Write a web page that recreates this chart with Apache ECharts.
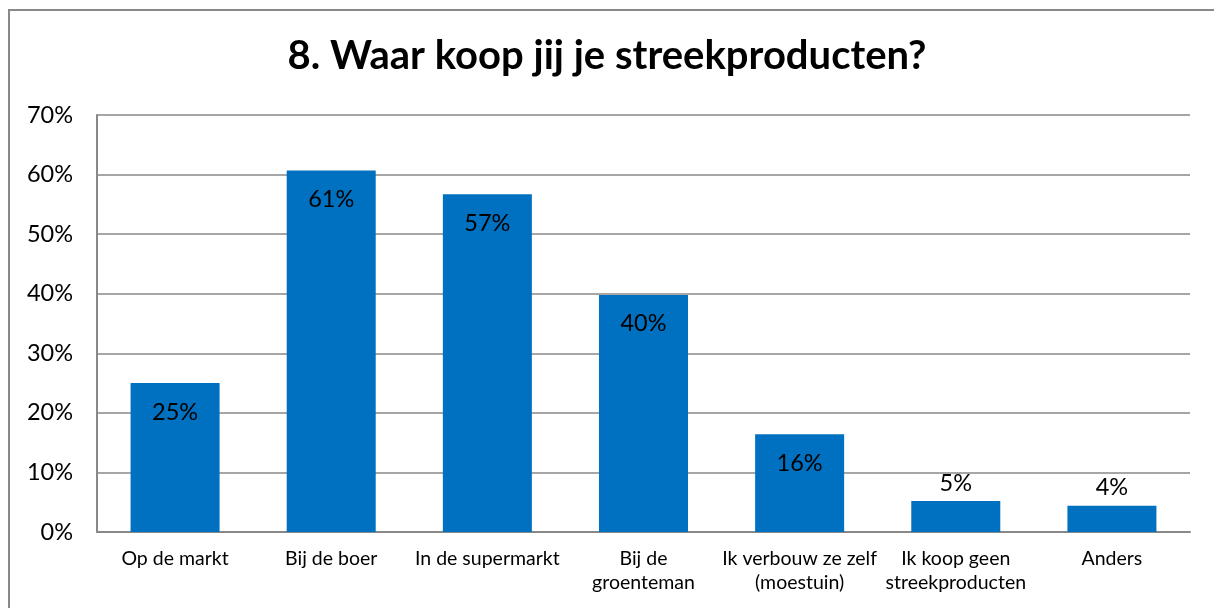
<!DOCTYPE html>
<html>
<head>
<meta charset="utf-8">
<script src="https://cdn.jsdelivr.net/npm/echarts@6/dist/echarts.min.js"></script>
<style>
  html, body { margin: 0; padding: 0; background: #fff; }
  #chart { width: 1214px; height: 608px; }
</style>
</head>
<body>
<div id="chart"></div>
<script>
const categories = ['Op de markt', 'Bij de boer', 'In de supermarkt', 'Bij de\ngroenteman',
  'Ik verbouw ze zelf\n(moestuin)', 'Ik koop geen\nstreekproducten', 'Anders']
const values = [25.0, 60.7, 56.7, 39.8, 16.4, 5.2, 4.4]
const barLabels = ['25%', '61%', '57%', '40%', '16%', '5%', '4%']
// small bars get their label above instead of inside
const labelOutside = [false, false, false, false, false, true, true]

const font = 'Lato, "Open Sans", sans-serif'
const myChart = echarts.init(document.getElementById('chart'))

myChart.setOption({
  animation: false,
  title: {
    text: '8. Waar koop jij je streekproducten?',
    left: 'center',
    top: 31,
    textStyle: { fontFamily: font, fontSize: 40, fontWeight: 'bold', color: '#000' }
  },
  graphic: [{
    type: 'rect',
    shape: { x: 9, y: 10, width: 1250, height: 650 },
    style: { fill: 'none', stroke: '#888', lineWidth: 2 },
    silent: true
  }],
  grid: { left: 97, right: 24, top: 115, bottom: 76 },
  xAxis: {
    type: 'category',
    data: categories,
    axisTick: { show: false },
    axisLine: { lineStyle: { color: '#888', width: 2 } },
    axisLabel: {
      fontFamily: font, fontSize: 19.5, color: '#000',
      margin: 15, lineHeight: 24, interval: 0
    }
  },
  yAxis: {
    type: 'value',
    min: 0,
    max: 70,
    interval: 10,
    axisLine: { show: true, lineStyle: { color: '#888', width: 2 } },
    axisTick: { show: false },
    splitLine: { lineStyle: { color: '#888', width: 1.5 } },
    axisLabel: {
      fontFamily: font, fontSize: 23.5, color: '#000', margin: 24,
      formatter: '{value}%'
    }
  },
  series: [{
    type: 'bar',
    barWidth: '57%',
    itemStyle: { color: '#0070C0' },
    data: values.map((v, i) => ({
      value: v,
      label: {
        show: true,
        position: labelOutside[i] ? 'top' : 'insideTop',
        distance: labelOutside[i] ? 6 : 17,
        formatter: barLabels[i],
        fontFamily: font, fontSize: 23.5, color: '#000'
      }
    }))
  }]
})
</script>
</body>
</html>
